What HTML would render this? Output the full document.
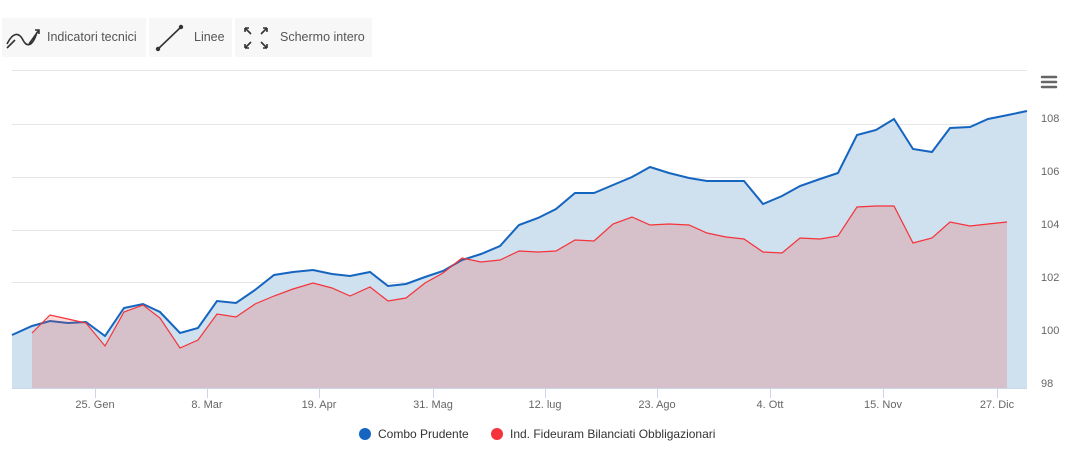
<!DOCTYPE html>
<html><head><meta charset="utf-8"><style>
body{margin:0;background:#fff;width:1066px;height:453px;overflow:hidden;font-family:"Liberation Sans",sans-serif}
.btn{position:absolute;top:18px;height:39px;background:#f7f7f7;font-size:12.5px;color:#555;line-height:39px}
</style></head><body>
<div class="btn" style="left:2px;width:144px"><svg style="position:absolute;left:3px;top:8px" width="36" height="24"><path d="M2 18 C8 6,14 6,18 14 S28 20,32 6 M2 22 L10 14 M24 18 L34 4 M30 4 L34 4 L34 8" stroke="#333" stroke-width="1.6" fill="none"/></svg><span style="position:absolute;left:45px">Indicatori tecnici</span></div>
<div class="btn" style="left:149px;width:83px"><svg style="position:absolute;left:6px;top:6px" width="30" height="28"><line x1="3" y1="25" x2="26" y2="3" stroke="#333" stroke-width="1.6"/><circle cx="3" cy="25" r="2.2" fill="#333"/><circle cx="26" cy="3" r="2.2" fill="#333"/></svg><span style="position:absolute;left:45px">Linee</span></div>
<div class="btn" style="left:235px;width:137px"><svg style="position:absolute;left:8px;top:8px" width="26" height="24"><g stroke="#333" stroke-width="1.6" fill="none"><path d="M2 2 L8 8 M2 2 L2 6 M2 2 L6 2"/><path d="M24 2 L18 8 M24 2 L24 6 M24 2 L20 2"/><path d="M2 22 L8 16 M2 22 L2 18 M2 22 L6 22"/><path d="M24 22 L18 16 M24 22 L24 18 M24 22 L20 22"/></g></svg><span style="position:absolute;left:45px">Schermo intero</span></div>
<svg style="position:absolute;left:0;top:0" width="1066" height="453">
<g stroke="#e6e6e6" stroke-width="1"><line x1="12" x2="1027" y1="70.5" y2="70.5"/><line x1="12" x2="1027" y1="124.5" y2="124.5"/><line x1="12" x2="1027" y1="177.5" y2="177.5"/><line x1="12" x2="1027" y1="230.5" y2="230.5"/><line x1="12" x2="1027" y1="282.5" y2="282.5"/><line x1="12" x2="1027" y1="335.5" y2="335.5"/></g>
<path d="M12,335 L32,326 L50,321 L68,323 L86,322 L105,336 L124,308 L143,304 L160,312 L180,333 L198,328 L217,301 L236,303 L255,290 L274,275 L293,272 L313,270 L332,274 L350,276 L370,272 L388,286 L406,284 L425,277 L443,271 L462,260 L481,254 L500,246 L519,225 L538,218 L556,209 L575,193 L594,193 L613,185 L632,177 L650,167 L669,173 L689,178 L707,181 L726,181 L744,181 L763,204 L782,196 L800,186 L820,179 L838,173 L857,135 L876,130 L894,119 L913,149 L932,152 L950,128 L970,127 L988,119 L1008,115 L1027,111 L1027,388 L12,388Z" fill="rgb(207,224,238)"/>
<path d="M12,335 L32,326 L50,321 L68,323 L86,322 L105,336 L124,308 L143,304 L160,312 L180,333 L198,328 L217,301 L236,303 L255,290 L274,275 L293,272 L313,270 L332,274 L350,276 L370,272 L388,286 L406,284 L425,277 L443,271 L462,260 L481,254 L500,246 L519,225 L538,218 L556,209 L575,193 L594,193 L613,185 L632,177 L650,167 L669,173 L689,178 L707,181 L726,181 L744,181 L763,204 L782,196 L800,186 L820,179 L838,173 L857,135 L876,130 L894,119 L913,149 L932,152 L950,128 L970,127 L988,119 L1008,115 L1027,111" fill="none" stroke="#1565c0" stroke-width="2"/>
<path d="M32,333 L50,315 L68,319 L86,323 L105,346 L124,312 L143,305 L160,318 L180,348 L198,340 L217,314 L236,317 L255,304 L274,296 L293,289 L313,283 L332,288 L350,296 L370,287 L388,301 L406,298 L425,283 L443,273 L462,258 L481,262 L500,260 L519,251 L538,252 L556,251 L575,240 L594,241 L613,224 L632,217 L650,225 L669,224 L689,225 L707,233 L726,237 L744,239 L763,252 L782,253 L800,238 L820,239 L838,236 L857,207 L876,206 L894,206 L913,243 L932,238 L950,222 L970,226 L988,224 L1007,222 L1007,388 L32,388Z" fill="rgba(244,67,54,0.2)"/>
<path d="M32,333 L50,315 L68,319 L86,323 L105,346 L124,312 L143,305 L160,318 L180,348 L198,340 L217,314 L236,317 L255,304 L274,296 L293,289 L313,283 L332,288 L350,296 L370,287 L388,301 L406,298 L425,283 L443,273 L462,258 L481,262 L500,260 L519,251 L538,252 L556,251 L575,240 L594,241 L613,224 L632,217 L650,225 L669,224 L689,225 L707,233 L726,237 L744,239 L763,252 L782,253 L800,238 L820,239 L838,236 L857,207 L876,206 L894,206 L913,243 L932,238 L950,222 L970,226 L988,224 L1007,222" fill="none" stroke="#f4333a" stroke-width="1.2"/>
<line x1="12" x2="1027" y1="388.5" y2="388.5" stroke="#ccd6eb"/>
<g stroke="#ccd6eb"><line x1="95.5" x2="95.5" y1="388" y2="398"/><line x1="207.5" x2="207.5" y1="388" y2="398"/><line x1="319.5" x2="319.5" y1="388" y2="398"/><line x1="433.5" x2="433.5" y1="388" y2="398"/><line x1="545.5" x2="545.5" y1="388" y2="398"/><line x1="657.5" x2="657.5" y1="388" y2="398"/><line x1="770.5" x2="770.5" y1="388" y2="398"/><line x1="883.5" x2="883.5" y1="388" y2="398"/><line x1="997.5" x2="997.5" y1="388" y2="398"/></g>
<g font-size="11" fill="#666" text-anchor="middle"><text x="95" y="408">25. Gen</text><text x="207" y="408">8. Mar</text><text x="319" y="408">19. Apr</text><text x="433" y="408">31. Mag</text><text x="545" y="408">12. lug</text><text x="657" y="408">23. Ago</text><text x="770" y="408">4. Ott</text><text x="883" y="408">15. Nov</text><text x="997" y="408">27. Dic</text></g>
<g font-size="11" fill="#666"><text x="1041" y="122">108</text><text x="1041" y="175">106</text><text x="1041" y="228">104</text><text x="1041" y="281">102</text><text x="1041" y="334">100</text><text x="1041" y="387">98</text></g>
<g stroke="#666" stroke-width="2.5" stroke-linecap="round"><line x1="1042" y1="77" x2="1056" y2="77"/><line x1="1042" y1="82" x2="1056" y2="82"/><line x1="1042" y1="87" x2="1056" y2="87"/></g>
<circle cx="365" cy="434" r="6" fill="#1565c0"/><text x="378" y="438" font-size="12" fill="#333">Combo Prudente</text>
<circle cx="497" cy="434" r="6" fill="#f4333a"/><text x="510" y="438" font-size="12" fill="#333">Ind. Fideuram Bilanciati Obbligazionari</text>
</svg>
</body></html>
